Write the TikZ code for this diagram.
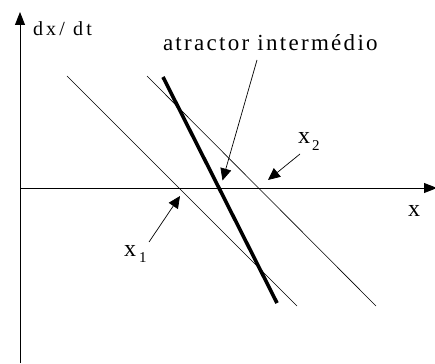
\documentclass[tikz,border=0pt]{standalone}
\usepackage{fontspec}
\setmainfont{Liberation Serif}
\newfontfamily\dxfont[LetterSpace=16]{Liberation Serif}
\newfontfamily\atfont[LetterSpace=10]{Liberation Serif}
\usetikzlibrary{arrows.meta}
\tikzset{
  axisline/.style={line width=0.9pt,-{Triangle[length=13pt,width=10pt]}},
  thinline/.style={line width=0.6pt},
  thickline/.style={line width=3.6pt},
  pointer/.style={line width=0.7pt,-{Triangle[length=12pt,width=11pt]}},
  lbl/.style={inner sep=0pt,outer sep=0pt}
}
\begin{document}
\begin{tikzpicture}[x=1pt,y=-1pt]
\useasboundingbox (0,0) rectangle (435,363);
% axes
\coordinate (ybot) at (20,363);
\coordinate (ytop) at (20,12);
\coordinate (xstart) at (20,188);
\coordinate (xend) at (437,188);
\draw[axisline] (ybot) -- (ytop);
\draw[axisline] (xstart) -- (xend);
% lines
\coordinate (a1) at (67,76);
\coordinate (b1) at (297,306);
\coordinate (a2) at (147,76);
\coordinate (b2) at (376,306);
\coordinate (c1) at (163,77);
\coordinate (c2) at (277,303);
\draw[thinline] (a1) -- (b1);
\draw[thinline] (a2) -- (b2);
\draw[thickline] (c1) -- (c2);
% labels
\node[lbl,anchor=base west] (dxdt) at (33,36) {\fontsize{20}{22}\dxfont dx/ dt};
\node[lbl,anchor=base west] (atr) at (163,51) {\fontsize{23}{26}\atfont atractor intermédio};
\node[lbl,anchor=base] (xlab) at (414,216) {\fontsize{24}{26}\selectfont x};
\node[lbl,anchor=base west] (x2) at (298,144) {\fontsize{24}{26}\selectfont x\hspace{2pt}\raisebox{-6pt}{\fontsize{15}{17}\selectfont 2}};
\node[lbl,anchor=base west] (x1) at (124,256) {\fontsize{24}{26}\selectfont x\hspace{3pt}\raisebox{-6pt}{\fontsize{15}{17}\selectfont 1}};
% pointers
\coordinate (p0s) at (257,60);
\coordinate (p0e) at (222.5,180.5);
\coordinate (p2s) at (300,154);
\coordinate (p2e) at (268,180);
\coordinate (p1s) at (149,242);
\coordinate (p1e) at (180,196);
\draw[pointer] (p0s) -- (p0e);
\draw[pointer] (p2s) -- (p2e);
\draw[pointer] (p1s) -- (p1e);
\end{tikzpicture}
\end{document}
